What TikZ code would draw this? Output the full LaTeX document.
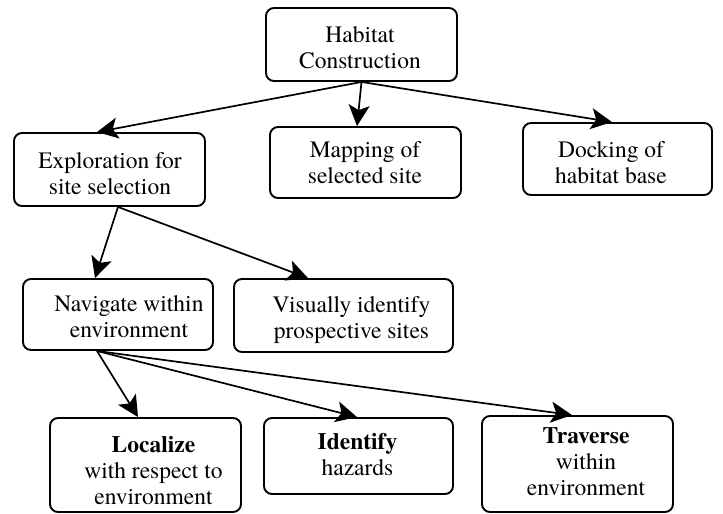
\documentclass[tikz,border=0pt]{standalone}
\usepackage{fontspec}
\setmainfont{texgyretermes}[Extension=.otf, UprightFont=*-regular, BoldFont=*-bold, ItalicFont=*-italic, BoldItalicFont=*-bolditalic]
\usetikzlibrary{arrows.meta}
\tikzset{
  box/.style={draw, line width=1.9pt, rounded corners=8pt, inner sep=0pt},
  txt/.style={inner sep=0pt, align=center, font=\rmfamily\fontsize{23.5}{26}\selectfont},
  arr/.style={line width=1.7pt, -{Stealth[length=21pt,width=21pt,inset=5pt]}}
}
\begin{document}
\begin{tikzpicture}[x=1pt,y=-1pt]
\useasboundingbox (0,0) rectangle (723,514);
\fill[white] (0,0) rectangle (723,514);
% boxes
\node[box, minimum width=191pt, minimum height=73pt] (hab) at (361.5,44.5) {};
\node[box, minimum width=191pt, minimum height=73pt] (exp) at (109.5,169.5) {};
\node[box, minimum width=191pt, minimum height=71pt] (map) at (365.5,162.5) {};
\node[box, minimum width=189pt, minimum height=72pt] (dock) at (617.5,159) {};
\node[box, minimum width=190pt, minimum height=71pt] (nav) at (118,314.5) {};
\node[box, minimum width=219pt, minimum height=73pt] (vis) at (343.5,315.5) {};
\node[box, minimum width=191pt, minimum height=94pt] (loc) at (145.5,465) {};
\node[box, minimum width=189pt, minimum height=76pt] (ident) at (358.5,456) {};
\node[box, minimum width=191pt, minimum height=96pt] (trav) at (577.5,464) {};
% texts
\node[txt] (habt) at (360,47.2) {Habitat\\Construction};
\node[txt] (expt) at (110,173.7) {Exploration for\\site selection};
\node[txt] (mapt) at (365,162.2) {Mapping of\\selected site};
\node[txt] (dockt) at (611,162.6) {Docking of\\habitat base};
\node[txt] (navt) at (129,317.1) {Navigate within\\environment};
\node[txt] (vist) at (351.5,319.6) {Visually identify\\prospective sites};
\node[txt] (loct) at (153.5,470.7) {\textbf{Localize}\\with respect to\\environment};
\node[txt] (identt) at (357.5,454.5) {\textbf{Identify}\\hazards};
\node[txt] (travt) at (586,461.9) {\textbf{Traverse}\\within\\environment};
% arrows
\draw[arr] (hab.south) -- ([xshift=-12.5pt]exp.north);
\draw[arr] (hab.south) -- ([xshift=-8.5pt]map.north);
\draw[arr] (hab.south) -- ([xshift=-5.5pt]dock.north);
\draw[arr] ([xshift=8.5pt]exp.south) -- ([xshift=-23pt]nav.north);
\draw[arr] ([xshift=8.5pt]exp.south) -- ([xshift=-35.5pt]vis.north);
\draw[arr] ([xshift=-21pt]nav.south) -- ([xshift=-7.5pt]loc.north);
\draw[arr] ([xshift=-21pt]nav.south) -- ([xshift=-1.5pt]ident.north);
\draw[arr] ([xshift=-21pt]nav.south) -- ([xshift=-5.5pt]trav.north);
\end{tikzpicture}
\end{document}
